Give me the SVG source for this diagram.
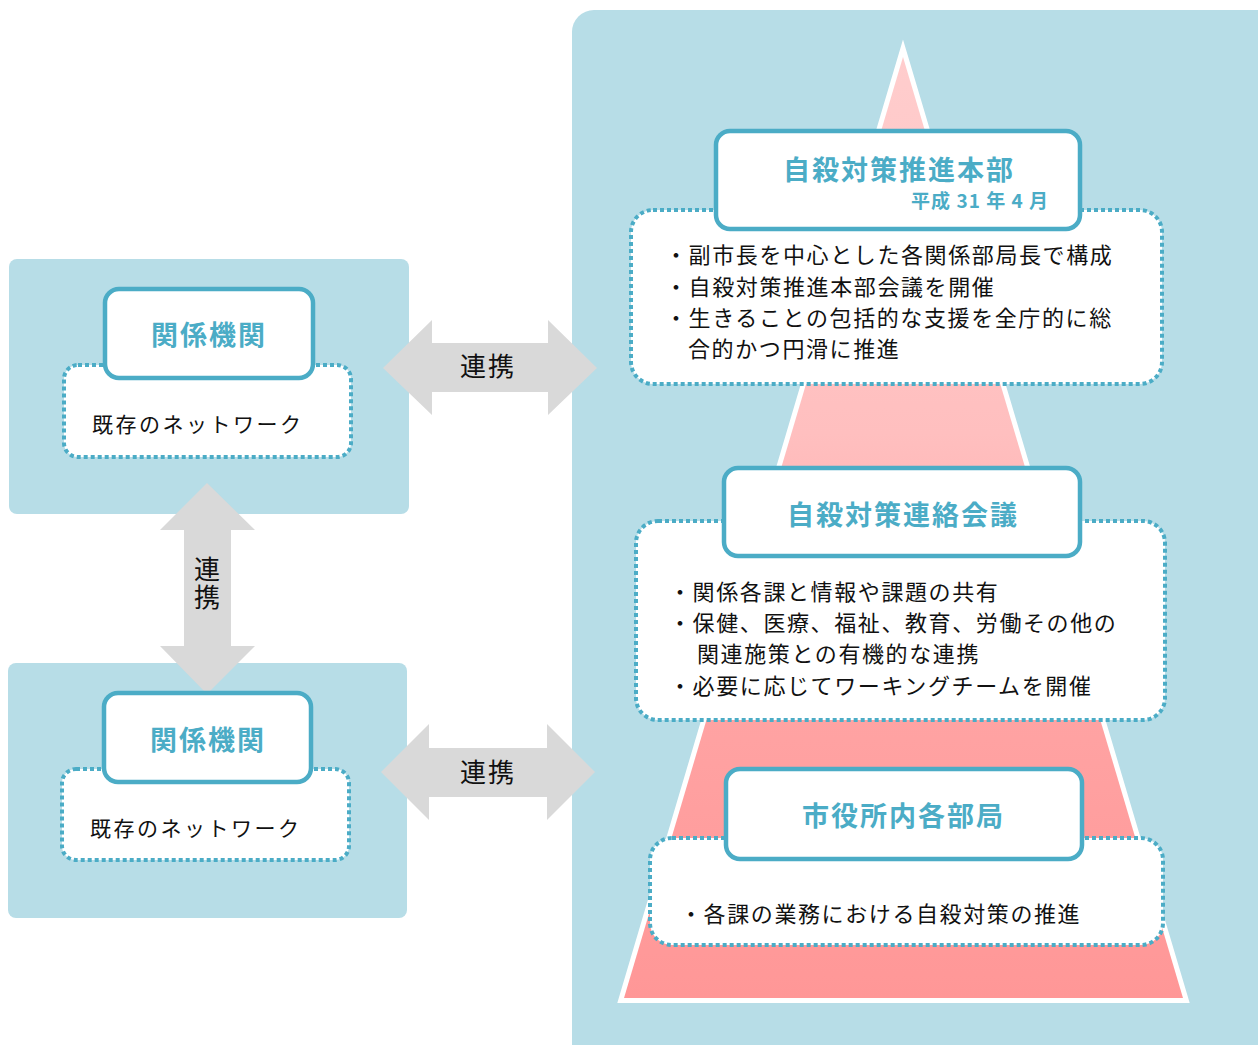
<svg xmlns="http://www.w3.org/2000/svg" width="1258" height="1045" viewBox="0 0 1258 1045">
<defs>
<linearGradient id="pg" gradientUnits="userSpaceOnUse" x1="0" y1="57" x2="0" y2="998">
<stop offset="0" stop-color="#ffcdcd"/>
<stop offset="0.4" stop-color="#ffbfbf"/>
<stop offset="0.7" stop-color="#ffa3a3"/>
<stop offset="1" stop-color="#ff9797"/>
</linearGradient>
<style>
.panel{fill:#b7dde7}
.solid{fill:#fff;stroke:#4bacc6;stroke-width:4.5}
.dot{fill:#fff;stroke:#4bacc6;stroke-width:4;stroke-dasharray:4 3}
.arrow{fill:#d9d9d9}
.title{font-family:"Noto Sans CJK JP","Noto Sans",sans-serif;font-weight:bold;fill:#4bacc6;font-size:27px;letter-spacing:2px}
.sub{font-family:"Noto Sans CJK JP","Noto Sans",sans-serif;font-weight:bold;fill:#4bacc6;font-size:19px;letter-spacing:1px}
.body{font-family:"Noto Sans CJK JP","Noto Sans",sans-serif;fill:#111;font-size:22px;letter-spacing:1.6px}
.net{font-family:"Noto Sans CJK JP","Noto Sans",sans-serif;fill:#111;font-size:21px;letter-spacing:2.5px}
.lbl{font-family:"Noto Sans CJK JP","Noto Sans",sans-serif;fill:#111;font-size:26px;letter-spacing:2px}
</style>
</defs>
<rect width="1258" height="1045" fill="#fff"/>
<g id="city-panel">
<rect class="panel" x="572" y="10" width="710" height="1060" rx="22"/>
<polygon points="903,57 1183,998 624,998" fill="url(#pg)" stroke="#fff" stroke-width="10" paint-order="stroke" stroke-linejoin="miter" stroke-miterlimit="6"/>
</g>
<g id="agency-panel-1"><rect class="panel" x="9" y="259" width="400" height="255" rx="8"/></g>
<g id="agency-panel-2"><rect class="panel" x="8" y="663" width="399" height="255" rx="8"/></g>
<g id="connectors">
<polygon class="arrow" points="383,368 432,320 432,343 548,343 548,320 597,368 548,415 548,392 432,392 432,415"/>
<text class="lbl" x="488" y="376" text-anchor="middle">連携</text>
<polygon class="arrow" points="381,772 429,724 429,748 547,748 547,724 595,772 547,820 547,797 429,797 429,820"/>
<text class="lbl" x="488" y="782" text-anchor="middle">連携</text>
<polygon class="arrow" points="207,483 255,530 231,530 231,646 255,646 207,694 160,646 184,646 184,530 160,530"/>
<text class="lbl" x="207" y="556" writing-mode="vertical-rl" letter-spacing="3">連携</text>
</g>
<g id="agency-1">
<rect class="dot" x="64" y="365" width="287" height="92" rx="14"/>
<rect class="solid" x="105" y="289" width="208" height="89" rx="14"/>
<text class="title" x="209" y="345" text-anchor="middle">関係機関</text>
<text class="net" x="92" y="432">既存のネットワーク</text>
</g>
<g id="agency-2">
<rect class="dot" x="62" y="769" width="287" height="91" rx="14"/>
<rect class="solid" x="104" y="693" width="207" height="89" rx="14"/>
<text class="title" x="208" y="750" text-anchor="middle">関係機関</text>
<text class="net" x="90" y="836">既存のネットワーク</text>
</g>
<g id="headquarters">
<rect class="dot" x="631" y="210" width="531" height="174" rx="22"/>
<rect class="solid" x="716" y="131" width="364" height="98" rx="14"/>
<text class="title" x="783" y="180">自殺対策推進本部</text>
<text class="sub" x="1049" y="208" text-anchor="end">平成 31 年 4 月</text>
<text class="body" x="665" y="263">・副市長を中心とした各関係部局長で構成</text>
<text class="body" x="665" y="295">・自殺対策推進本部会議を開催</text>
<text class="body" x="665" y="326">・生きることの包括的な支援を全庁的に総</text>
<text class="body" x="688" y="357">合的かつ円滑に推進</text>
</g>
<g id="liaison-council">
<rect class="dot" x="636" y="521" width="529" height="199" rx="22"/>
<rect class="solid" x="724" y="468" width="356" height="88" rx="14"/>
<text class="title" x="787" y="525">自殺対策連絡会議</text>
<text class="body" x="669" y="600">・関係各課と情報や課題の共有</text>
<text class="body" x="669" y="631">・保健、医療、福祉、教育、労働その他の</text>
<text class="body" x="697" y="662">関連施策との有機的な連携</text>
<text class="body" x="669" y="694">・必要に応じてワーキングチームを開催</text>
</g>
<g id="departments">
<rect class="dot" x="650" y="838" width="513" height="107" rx="22"/>
<rect class="solid" x="726" y="769" width="356" height="90" rx="14"/>
<text class="title" x="802" y="826">市役所内各部局</text>
<text class="body" x="680" y="922">・各課の業務における自殺対策の推進</text>
</g>
</svg>
